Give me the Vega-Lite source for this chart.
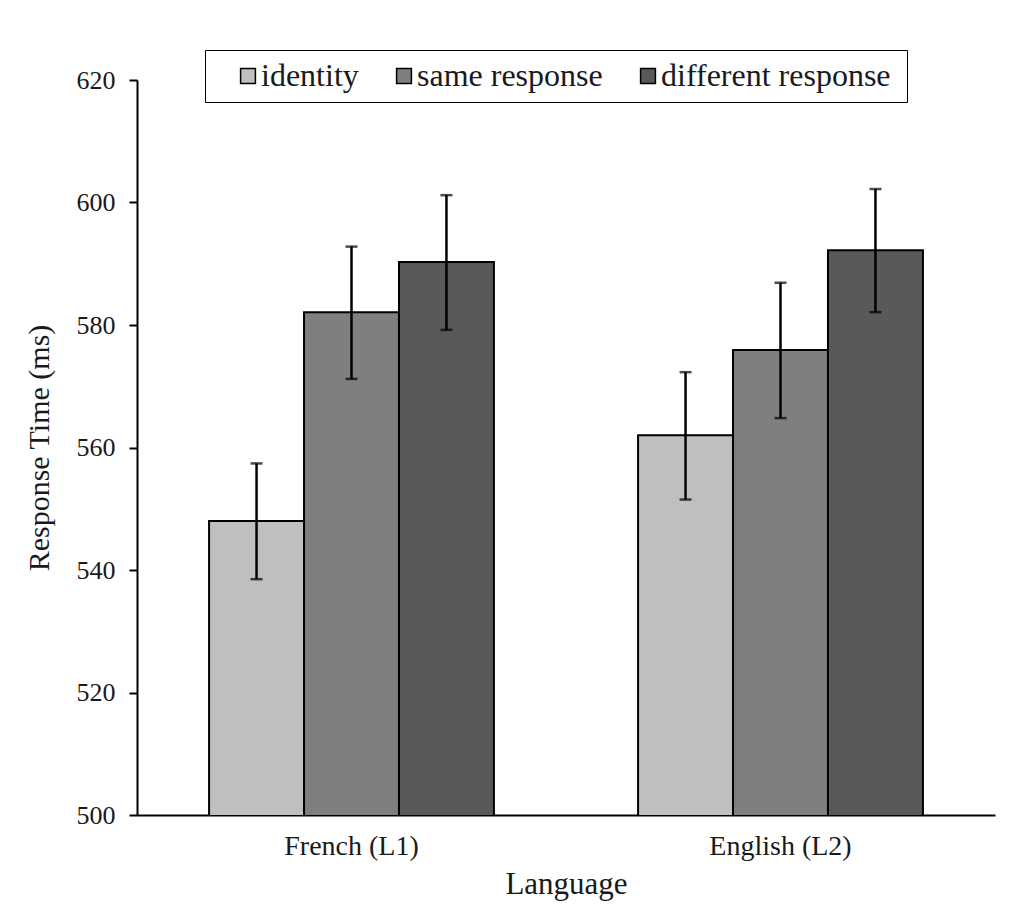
{
  "$schema": "https://vega.github.io/schema/vega-lite/v6.json",
  "width": 858,
  "height": 735,
  "autosize": "none",
  "padding": {"left": 137, "top": 80, "right": 21, "bottom": 95},
  "background": "white",
  "config": {
    "font": "Liberation Serif",
    "view": {"stroke": null},
    "legend": {"strokeColor": "#000"},
    "axis": {"labelFont": "Liberation Serif", "titleFont": "Liberation Serif", "labelColor": "#1a1a1a", "titleColor": "#1a1a1a", "titleFontWeight": "normal", "grid": false, "domainColor": "#000", "domainWidth": 2, "tickColor": "#000", "tickWidth": 2}
  },
  "data": {
    "values": [
      {"language": "French (L1)", "condition": "identity", "rt": 548.0, "lo": 538.5, "hi": 557.4},
      {"language": "French (L1)", "condition": "same response", "rt": 582.1, "lo": 571.2, "hi": 592.8},
      {"language": "French (L1)", "condition": "different response", "rt": 590.3, "lo": 579.2, "hi": 601.2},
      {"language": "English (L2)", "condition": "identity", "rt": 562.0, "lo": 551.5, "hi": 572.3},
      {"language": "English (L2)", "condition": "same response", "rt": 575.9, "lo": 564.8, "hi": 586.9},
      {"language": "English (L2)", "condition": "different response", "rt": 592.2, "lo": 582.1, "hi": 602.2}
    ]
  },
  "encoding": {
    "x": {
      "field": "language", "type": "nominal", "sort": ["French (L1)", "English (L2)"],
      "scale": {"paddingInner": 0.336, "paddingOuter": 0.168},
      "axis": {"title": "Language", "labelAngle": 0, "ticks": false, "tickSize": 0, "labelFontSize": 28, "labelPadding": 17, "titleFontSize": 31, "titlePadding": 9}
    },
    "xOffset": {"field": "condition", "type": "nominal", "sort": ["identity", "same response", "different response"], "scale": {"paddingInner": 0, "paddingOuter": 0}}
  },
  "layer": [
    {
      "mark": {"type": "bar", "stroke": "#000", "strokeWidth": 2, "clip": true},
      "encoding": {
        "y": {
          "field": "rt", "type": "quantitative",
          "scale": {"domain": [500, 620], "nice": false, "zero": false},
          "axis": {"title": "Response Time (ms)", "values": [500, 520, 540, 560, 580, 600, 620], "tickSize": 8, "labelFontSize": 26, "labelPadding": 14, "titleFontSize": 30, "titlePadding": 22}
        },
        "fill": {
          "field": "condition", "type": "nominal", "sort": ["identity", "same response", "different response"],
          "scale": {"domain": ["identity", "same response", "different response"], "range": ["#bfbfbf", "#7f7f7f", "#595959"]},
          "legend": {
            "title": "\u00a0", "titleOrient": "right", "titleFontSize": 20, "titlePadding": 6,
            "orient": "none", "direction": "horizontal", "legendX": 68, "legendY": -30,
            "strokeColor": "#000", "fillColor": "#fff", "padding": 10,
            "symbolType": "square", "symbolSize": 220, "symbolStrokeColor": "#000", "symbolStrokeWidth": 1.5, "symbolOffset": 17,
            "labelFont": "Liberation Serif", "labelFontSize": 32, "labelColor": "#1a1a1a", "labelOffset": -3, "columnPadding": 12, "labelLimit": 400
          }
        }
      }
    },
    {
      "mark": {"type": "rule", "color": "#000", "strokeWidth": 2.5},
      "encoding": {"y": {"field": "lo", "type": "quantitative"}, "y2": {"field": "hi"}}
    },
    {
      "mark": {"type": "tick", "color": "#000", "thickness": 2.5, "size": 12, "orient": "horizontal"},
      "encoding": {"y": {"field": "lo", "type": "quantitative"}}
    },
    {
      "mark": {"type": "tick", "color": "#000", "thickness": 2.5, "size": 12, "orient": "horizontal"},
      "encoding": {"y": {"field": "hi", "type": "quantitative"}}
    }
  ]
}
